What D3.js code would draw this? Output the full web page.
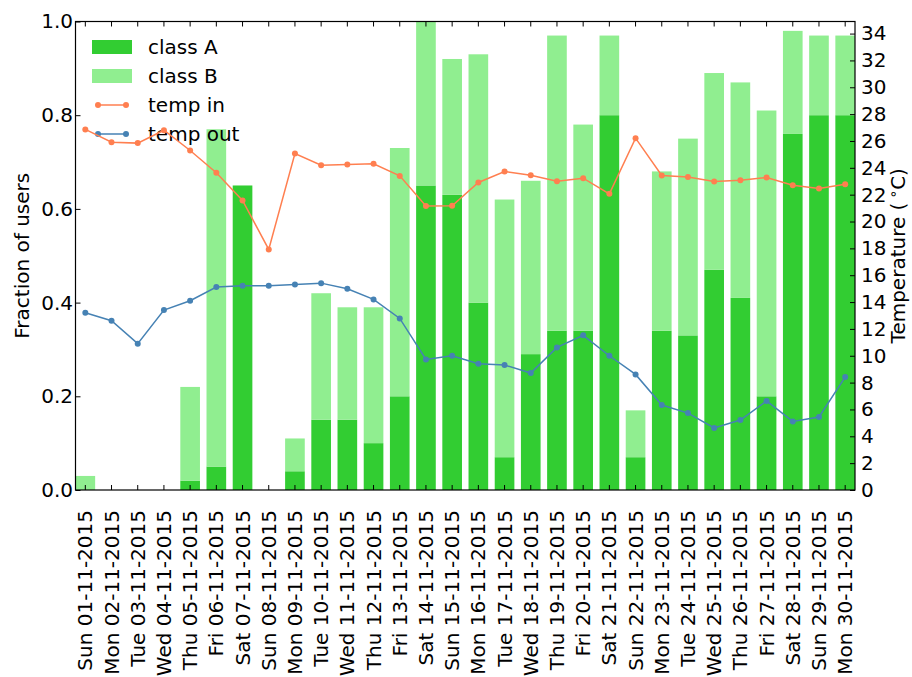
<!DOCTYPE html>
<html>
<head>
<meta charset="utf-8">
<script src="https://cdn.jsdelivr.net/npm/d3@7"></script>
<style>
  body { margin: 0; background: #fff; }
  text { font-family: "DejaVu Sans", sans-serif; }
</style>
</head>
<body>
<div id="container"></div>
<script>
const width = 912
const height = 677

const days = [
  'Sun 01-11-2015', 'Mon 02-11-2015', 'Tue 03-11-2015', 'Wed 04-11-2015', 'Thu 05-11-2015',
  'Fri 06-11-2015', 'Sat 07-11-2015', 'Sun 08-11-2015', 'Mon 09-11-2015', 'Tue 10-11-2015',
  'Wed 11-11-2015', 'Thu 12-11-2015', 'Fri 13-11-2015', 'Sat 14-11-2015', 'Sun 15-11-2015',
  'Mon 16-11-2015', 'Tue 17-11-2015', 'Wed 18-11-2015', 'Thu 19-11-2015', 'Fri 20-11-2015',
  'Sat 21-11-2015', 'Sun 22-11-2015', 'Mon 23-11-2015', 'Tue 24-11-2015', 'Wed 25-11-2015',
  'Thu 26-11-2015', 'Fri 27-11-2015', 'Sat 28-11-2015', 'Sun 29-11-2015', 'Mon 30-11-2015'
]

// fraction of users
const classA = [0, 0, 0, 0, 0.02, 0.05, 0.65, 0, 0.04, 0.15, 0.15, 0.10, 0.20, 0.65, 0.63,
  0.40, 0.07, 0.29, 0.34, 0.34, 0.80, 0.07, 0.34, 0.33, 0.47, 0.41, 0.20, 0.76, 0.80, 0.80]
const classB = [0.03, 0, 0, 0, 0.20, 0.72, 0, 0, 0.07, 0.27, 0.24, 0.29, 0.53, 0.35, 0.29,
  0.53, 0.55, 0.37, 0.63, 0.44, 0.17, 0.10, 0.34, 0.42, 0.42, 0.46, 0.61, 0.22, 0.17, 0.17]

// temperatures (deg C)
const tempIn = [26.86, 25.91, 25.84, 26.8, 25.29, 23.63, 21.57, 17.92, 25.07, 24.2, 24.25, 24.3, 23.4, 21.15, 21.17,
  22.91, 23.73, 23.45, 23.0, 23.23, 22.06, 26.21, 23.43, 23.31, 22.99, 23.08, 23.28, 22.71, 22.46, 22.78]
const tempOut = [13.2, 12.61, 10.9, 13.4, 14.1, 15.12, 15.21, 15.21, 15.31, 15.41, 14.99, 14.2, 12.78, 9.73, 10.0,
  9.41, 9.31, 8.71, 10.62, 11.52, 10.0, 8.61, 6.33, 5.73, 4.62, 5.21, 6.63, 5.11, 5.44, 8.41]

const fracTicks = [0, 0.2, 0.4, 0.6, 0.8, 1.0]
const tempTicks = d3.range(0, 35, 2)

const colA = '#32cd32'
const colB = '#90ee90'
const colIn = '#ff7f50'
const colOut = '#4682b4'
const fs = 20

const pLeft = 75.5, pRight = 855, pTop = 21.5, pBottom = 490

const svg = d3.select('#container')
  .append('svg')
  .attr('width', width)
  .attr('height', height)

const x = d3.scaleBand()
  .domain(days)
  .range([pLeft, pRight])
  .paddingInner(0.25)
  .paddingOuter(0)

const y = d3.scaleLinear().domain([0, 1]).range([pBottom, pTop])
const yT = d3.scaleLinear().domain([0, 34.9]).range([pBottom, pTop])

const cx = d => x(d) + x.bandwidth() / 2

// bars: class A at bottom, class B stacked on top
svg.append('g').selectAll('rect')
  .data(days)
  .enter()
  .append('rect')
  .attr('x', d => x(d))
  .attr('width', x.bandwidth())
  .attr('y', (d, i) => y(classA[i]))
  .attr('height', (d, i) => y(0) - y(classA[i]))
  .attr('fill', colA)

svg.append('g').selectAll('rect')
  .data(days)
  .enter()
  .append('rect')
  .attr('x', d => x(d))
  .attr('width', x.bandwidth())
  .attr('y', (d, i) => y(classA[i] + classB[i]))
  .attr('height', (d, i) => y(classA[i]) - y(classA[i] + classB[i]))
  .attr('fill', colB)

// legend (no frame)
const legend = svg.append('g')
const legendItems = [
  { label: 'class A', kind: 'bar', color: colA },
  { label: 'class B', kind: 'bar', color: colB },
  { label: 'temp in', kind: 'line', color: colIn },
  { label: 'temp out', kind: 'line', color: colOut }
]
legendItems.forEach((it, i) => {
  const cy = 47 + i * 29
  if (it.kind === 'bar') {
    legend.append('rect')
      .attr('x', 92).attr('y', cy - 7)
      .attr('width', 40).attr('height', 14)
      .attr('fill', it.color)
  } else {
    legend.append('line')
      .attr('x1', 98).attr('x2', 126)
      .attr('y1', cy).attr('y2', cy)
      .attr('stroke', it.color).attr('stroke-width', 1.5)
    legend.selectAll(null).data([98, 126]).enter()
      .append('circle')
      .attr('cx', d => d).attr('cy', cy).attr('r', 3)
      .attr('fill', it.color)
  }
  legend.append('text')
    .attr('x', 148).attr('y', cy).attr('dy', '0.35em')
    .attr('font-size', fs)
    .text(it.label)
})

// temperature lines
const series = [
  { values: tempIn, color: colIn },
  { values: tempOut, color: colOut }
]
const line = d3.line()
  .x((d, i) => cx(days[i]))
  .y(d => yT(d))

series.forEach(s => {
  svg.append('path')
    .datum(s.values)
    .attr('d', line)
    .attr('fill', 'none')
    .attr('stroke', s.color)
    .attr('stroke-width', 1.5)
  svg.append('g').selectAll('circle')
    .data(s.values)
    .enter()
    .append('circle')
    .attr('cx', (d, i) => cx(days[i]))
    .attr('cy', d => yT(d))
    .attr('r', 3)
    .attr('fill', s.color)
})

// axes: ticks pointing inward
const tickLen = 5

const xBottom = svg.append('g')
  .attr('transform', `translate(0,${pBottom})`)
  .call(d3.axisBottom(x).tickSizeInner(-tickLen).tickSizeOuter(0).tickPadding(0))
xBottom.selectAll('text')
  .attr('font-size', fs)
  .attr('text-anchor', 'end')
  .attr('transform', 'translate(0,20) rotate(-90)')
  .attr('x', 0).attr('y', 0)
  .attr('dy', '0.35em')

svg.append('g')
  .attr('transform', `translate(0,${pTop})`)
  .call(d3.axisTop(x).tickSizeInner(-tickLen).tickSizeOuter(0).tickFormat(''))

const yLeft = svg.append('g')
  .attr('transform', `translate(${pLeft},0)`)
  .call(d3.axisLeft(y).tickValues(fracTicks).tickFormat(d3.format('.1f'))
    .tickSizeInner(-tickLen).tickSizeOuter(0).tickPadding(2.5))
yLeft.selectAll('text').attr('font-size', fs)

const yRight = svg.append('g')
  .attr('transform', `translate(${pRight},0)`)
  .call(d3.axisRight(yT).tickValues(tempTicks)
    .tickSizeInner(-tickLen).tickSizeOuter(0).tickPadding(6))
yRight.selectAll('text').attr('font-size', fs)

svg.selectAll('.domain').remove()
svg.selectAll('.tick line').attr('stroke', '#000').attr('stroke-width', 1)
svg.selectAll('.tick text').attr('fill', '#000')

// frame
svg.append('rect')
  .attr('x', pLeft).attr('y', pTop)
  .attr('width', pRight - pLeft).attr('height', pBottom - pTop)
  .attr('fill', 'none')
  .attr('stroke', '#000')
  .attr('stroke-width', 1.2)

// axis titles
svg.append('text')
  .attr('transform', `translate(28.5,${(pTop + pBottom) / 2}) rotate(-90)`)
  .attr('text-anchor', 'middle')
  .attr('font-size', fs)
  .text('Fraction of users')

const tTitle = svg.append('text')
  .attr('transform', `translate(905,${(pTop + pBottom) / 2}) rotate(-90)`)
  .attr('text-anchor', 'middle')
  .attr('font-size', fs)
tTitle.append('tspan').text('Temperature (\u2009')
tTitle.append('tspan').attr('font-size', 14).attr('dy', -7).text('\u2218')
tTitle.append('tspan').attr('dy', 7).text('C)')
</script>
</body>
</html>
